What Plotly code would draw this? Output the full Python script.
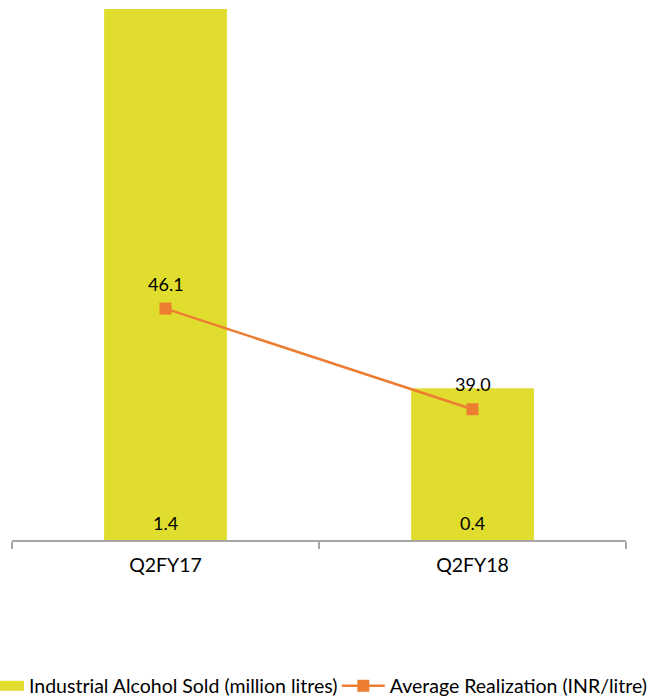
import plotly.graph_objects as go

# Quarterly data
quarters = ["Q2FY17", "Q2FY18"]
alcohol_sold = [1.4, 0.4]          # million litres
avg_realization = [46.1, 39.0]     # INR/litre

bar_name = "Industrial Alcohol Sold (million litres)"
line_name = "Average Realization (INR/litre)"

bar_color = "#e0dd2f"
line_color = "#ed7d31"
font_family = "Lato, 'Open Sans', sans-serif"

fig = go.Figure()

fig.add_trace(go.Bar(
    x=quarters,
    y=alcohol_sold,
    name=bar_name,
    marker=dict(color=bar_color, line=dict(width=0)),
    yaxis="y",
    legendgroup="sold",
    showlegend=False,
))

# legend entry for the bars, shown as a wide flat swatch
fig.add_trace(go.Scatter(
    x=[None], y=[None],
    name=bar_name,
    mode="lines",
    line=dict(color=bar_color, width=10),
    legendgroup="sold",
    legend="legend",
    hoverinfo="skip",
))

fig.add_trace(go.Scatter(
    x=quarters,
    y=avg_realization,
    name=line_name,
    mode="lines+markers",
    line=dict(color=line_color, width=2.5),
    marker=dict(symbol="square", size=12, color=line_color),
    yaxis="y2",
    legend="legend2",
))

annotations = []
# values at the base of each bar
for q, v in zip(quarters, alcohol_sold):
    annotations.append(dict(
        x=q, y=0, xref="x", yref="y",
        text=f"{v:.1f}", showarrow=False,
        yanchor="middle", yshift=17,
        font=dict(family=font_family, size=18, color="#000000"),
    ))
# values above each line marker
for q, v in zip(quarters, avg_realization):
    annotations.append(dict(
        x=q, y=v, xref="x", yref="y2",
        text=f"{v:.1f}", showarrow=False,
        yanchor="middle", yshift=25,
        font=dict(family=font_family, size=18, color="#000000"),
    ))

legend_font = dict(family=font_family, size=19.5, color="#000000")

fig.update_layout(
    width=650,
    height=700,
    margin=dict(l=12, r=24, t=9, b=160, autoexpand=False),
    paper_bgcolor="white",
    plot_bgcolor="white",
    bargap=0.6,
    font=dict(family=font_family, size=17, color="#000000"),
    showlegend=True,
    legend=dict(
        orientation="h",
        x=-0.0375, xanchor="left",
        y=-0.275, yanchor="middle",
        font=legend_font,
        itemwidth=30,
        bgcolor="rgba(0,0,0,0)",
    ),
    legend2=dict(
        orientation="h",
        x=0.529, xanchor="left",
        y=-0.275, yanchor="middle",
        font=legend_font,
        itemwidth=43,
        bgcolor="rgba(0,0,0,0)",
    ),
    xaxis=dict(
        type="category",
        showline=True,
        linecolor="#a6a6a6",
        linewidth=2,
        ticks="outside",
        tickson="boundaries",
        ticklen=7,
        tickwidth=2,
        tickcolor="#a6a6a6",
        showgrid=False,
        ticklabelstandoff=7,
        tickfont=dict(family=font_family, size=19.5, color="#000000"),
    ),
    yaxis=dict(
        range=[0, 1.4],
        visible=False,
        showgrid=False,
        zeroline=False,
    ),
    yaxis2=dict(
        range=[29.78, 67.23],
        overlaying="y",
        side="right",
        visible=False,
        showgrid=False,
        zeroline=False,
    ),
    annotations=annotations,
)

fig.write_html("out.html")
